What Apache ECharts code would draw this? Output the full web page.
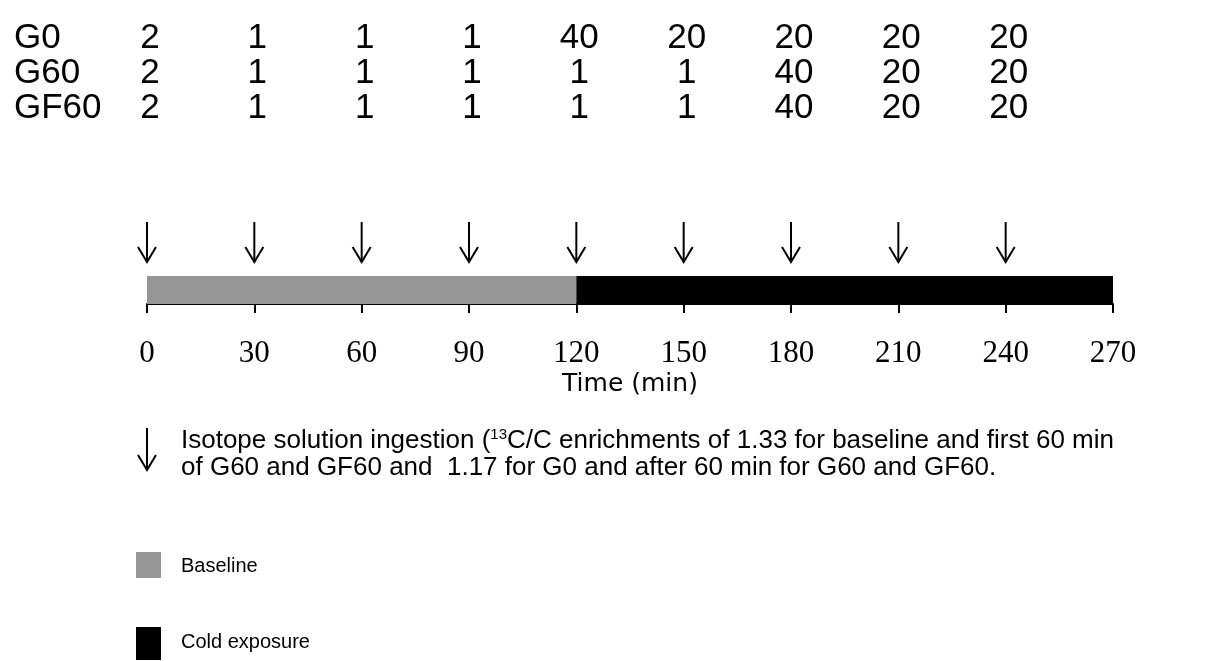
<!DOCTYPE html>
<html><head><meta charset="utf-8">
<script src="https://cdn.jsdelivr.net/npm/echarts@6/dist/echarts.min.js"></script>
<style>html,body{margin:0;padding:0;background:#fff}#c{width:1207px;height:661px}</style>
</head><body><div id="c"></div>
<script>
// ---- data ----
const groups = ['G0', 'G60', 'GF60'];
const doseTimes = [0, 30, 60, 90, 120, 150, 180, 210, 240];
const doseG0 = [2, 1, 1, 1, 40, 20, 20, 20, 20];
const doseG60 = [2, 1, 1, 1, 1, 1, 40, 20, 20];
const doseGF60 = [2, 1, 1, 1, 1, 1, 40, 20, 20];
const tickLabels = ['0', '30', '60', '90', '120', '150', '180', '210', '240', '270'];
const periodNames = ['Baseline', 'Cold exposure'];
const periodStart = [0, 120];
const periodEnd = [120, 270];
const legendNote = ['Isotope solution ingestion (', '13', 'C/C enrichments of 1.33 for baseline and first 60 min',
                    'of G60 and GF60 and  1.17 for G0 and after 60 min for G60 and GF60.'];

// ---- styles ----
const periodColors = ['#969696', '#000000'];
const rowY = [38, 73, 108];
const doseRows = [doseG0, doseG60, doseGF60];
const tableFont = '"Liberation Sans", Arial, sans-serif';

const chart = echarts.init(document.getElementById('c'), null, {renderer: 'canvas'});

function arrowShape(x, y0, y1) {
  return [
    {type: 'line', shape: {x1: x, y1: y0, x2: x, y2: y1}, style: {stroke: '#000', lineWidth: 2}},
    {type: 'polyline', shape: {points: [[x - 9, y1 - 15], [x, y1], [x + 9, y1 - 15]]}, style: {stroke: '#000', lineWidth: 2, fill: null}}
  ];
}

const series = [];
// timeline bar segments
series.push({
  type: 'custom', clip: false, silent: true,
  data: periodNames.map((n, i) => [periodStart[i], periodEnd[i], i]),
  encode: {x: [0, 1]},
  renderItem: (params, api) => {
    const a = api.coord([api.value(0), 0]);
    const b = api.coord([api.value(1), 0]);
    const i = api.value(2);
    return {type: 'rect', shape: {x: a[0], y: a[1] - 28, width: b[0] - a[0], height: 28}, style: {fill: periodColors[i]}};
  }
});
// dose arrows
series.push({
  type: 'custom', clip: false, silent: true,
  data: doseTimes.map(t => [t]),
  encode: {x: 0},
  renderItem: (params, api) => {
    const p = api.coord([api.value(0), 0]);
    return {type: 'group', children: arrowShape(p[0], p[1] - 82, p[1] - 42)};
  }
});
// dose table rows
doseRows.forEach((row, r) => {
  series.push({
    type: 'custom', clip: false, silent: true, name: groups[r],
    data: doseTimes.map((t, i) => [t, row[i]]),
    encode: {x: 0},
    renderItem: (params, api) => {
      const p = api.coord([api.value(0), 0]);
      return {type: 'text', x: p[0] + 3, y: rowY[r],
        style: {text: String(api.value(1)), fill: '#000', font: '35px ' + tableFont, align: 'center', verticalAlign: 'middle'}};
    }
  });
});

const graphic = [];
groups.forEach((g, r) => {
  graphic.push({type: 'text', x: 14, y: rowY[r],
    style: {text: g, fill: '#000', font: '35px ' + tableFont, align: 'left', verticalAlign: 'middle'}});
});
// legend
graphic.push({type: 'group', children: arrowShape(147, 428, 470)});
graphic.push({type: 'text', left: 181, top: 427,
  style: {
    rich: {
      n: {fontSize: 26, fontFamily: tableFont, fill: '#000', lineHeight: 27},
      s: {fontSize: 15, fontFamily: tableFont, fill: '#000', verticalAlign: 'top', lineHeight: 27, padding: [0, 0, 10, 0]}
    },
    text: '{n|' + legendNote[0] + '}{s|' + legendNote[1] + '}{n|' + legendNote[2] + '}\n{n|' + legendNote[3] + '}'
  }});
graphic.push({type: 'rect', shape: {x: 136, y: 552, width: 25, height: 26}, style: {fill: periodColors[0]}});
graphic.push({type: 'text', x: 181, y: 566, style: {text: periodNames[0], fill: '#000', font: '20px ' + tableFont, verticalAlign: 'middle'}});
graphic.push({type: 'rect', shape: {x: 136, y: 627, width: 25, height: 33}, style: {fill: periodColors[1]}});
graphic.push({type: 'text', x: 181, y: 642, style: {text: periodNames[1], fill: '#000', font: '20px ' + tableFont, verticalAlign: 'middle'}});

chart.setOption({
  animation: false,
  backgroundColor: '#fff',
  grid: {left: 147, right: 94, top: 222, bottom: 357},
  xAxis: {
    type: 'value', min: 0, max: 270, interval: 30,
    name: 'Time (min)', nameLocation: 'middle', nameGap: 68,
    nameTextStyle: {fontFamily: '"DejaVu Sans", sans-serif', fontSize: 25, color: '#000'},
    axisLine: {show: true, lineStyle: {color: '#000', width: 2}},
    axisTick: {show: true, length: 9, lineStyle: {color: '#000', width: 2}},
    axisLabel: {margin: 34, fontFamily: '"Liberation Serif", "Times New Roman", serif', fontSize: 31, color: '#000',
      formatter: (v) => tickLabels[Math.round(v / 30)]},
    splitLine: {show: false}
  },
  yAxis: {type: 'value', min: 0, max: 1, show: false},
  series: series,
  graphic: graphic
});
</script></body></html>
